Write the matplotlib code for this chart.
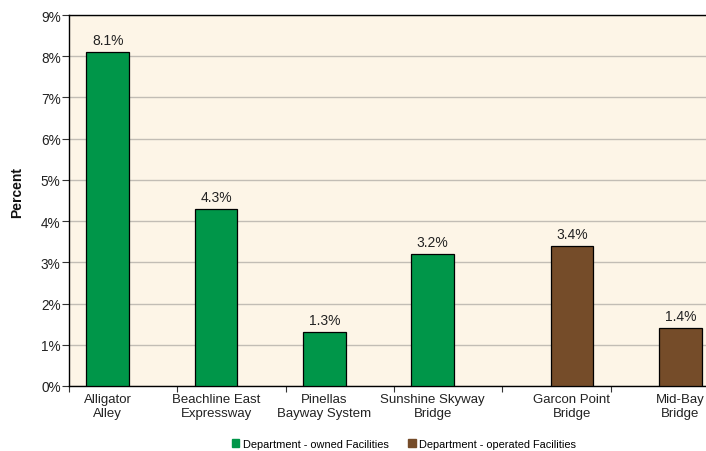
import matplotlib
matplotlib.use('Agg')
import matplotlib.pyplot as plt
import numpy as np

facilities = ['Alligator\nAlley', 'Beachline East\nExpressway', 'Pinellas\nBayway System',
              'Sunshine Skyway\nBridge', 'Garcon Point\nBridge', 'Mid-Bay\nBridge']
owned = [8.1, 4.3, 1.3, 3.2, None, None]
operated = [None, None, None, None, 3.4, 1.4]
series_names = ['Department - owned Facilities', 'Department - operated Facilities']

GREEN = '#009649'
BROWN = '#754C29'

plt.rcParams['font.family'] = ['Liberation Sans', 'DejaVu Sans']

fig = plt.figure(figsize=(7.06, 4.52), dpi=100)
ax = fig.add_axes([69/706, 65/452, 650/706, 371/452])
ax.set_facecolor('#FDF5E7')

width = 0.393
off = 0.143
x = np.arange(len(facilities))
label_pos = []
for i, (g, b) in enumerate(zip(owned, operated)):
    if g is not None:
        ax.bar(x[i] - off, g, width, color=GREEN, edgecolor='black', linewidth=0.9, zorder=3)
        ax.text(x[i] - off, g + 0.12, f'{g:.1f}%', ha='center', va='bottom', fontsize=10, color='#222')
        label_pos.append(x[i] - off)
    if b is not None:
        ax.bar(x[i] + off, b, width, color=BROWN, edgecolor='black', linewidth=0.9, zorder=3)
        ax.text(x[i] + off, b + 0.12, f'{b:.1f}%', ha='center', va='bottom', fontsize=10, color='#222')
        label_pos.append(x[i] + off)

ax.set_xlim(-0.5, len(facilities) - 0.5)
ax.set_ylim(0, 9)
ax.set_yticks(range(0, 10))
ax.set_yticklabels([f'{v}%' for v in range(0, 10)], fontsize=9.8, color='#222')
ax.yaxis.grid(True, color='#C2BDB5', linewidth=1, zorder=0)
ax.set_axisbelow(True)

ax.set_xticks(label_pos)
ax.set_xticklabels(facilities, fontsize=9.5, color='#222')
ax.tick_params(axis='x', length=0, pad=5)
ax.set_xticks(np.arange(-0.5, len(facilities) + 0.5), minor=True)
ax.tick_params(axis='x', which='minor', length=4, width=0.8, color='#333')
ax.tick_params(axis='y', length=5, width=0.8, color='#333', pad=1)

for s in ['left', 'bottom', 'top']:
    ax.spines[s].set_color('black')
    ax.spines[s].set_linewidth(1.0)
ax.spines['right'].set_visible(False)

fig.text(17/706, 1 - 192/452, 'Percent', rotation=90, ha='center', va='center',
         fontsize=10, fontweight='bold', color='#111')

handles = [plt.Rectangle((0, 0), 1, 1, color=GREEN), plt.Rectangle((0, 0), 1, 1, color=BROWN)]
fig.legend(handles, series_names, loc='center', bbox_to_anchor=(404/706, 1 - 445/452),
           ncol=2, frameon=False, fontsize=7.9, handlelength=0.7, handleheight=0.7,
           handletextpad=0.3, columnspacing=1.8)

fig.savefig('out.png', dpi=100)
